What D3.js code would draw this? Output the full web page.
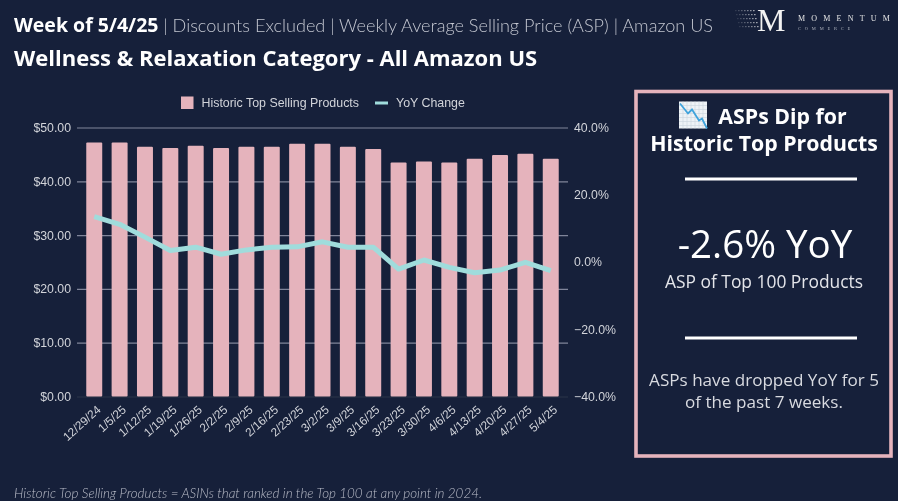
<!DOCTYPE html>
<html>
<head>
<meta charset="utf-8">
<script src="https://cdn.jsdelivr.net/npm/d3@7"></script>
<style>
    html, body { margin: 0; padding: 0; background: #16203a; overflow: hidden; }
    svg { display: block; filter: blur(0.35px); }
    .chartText { font-family: "Liberation Sans", Arial, sans-serif; fill: #d2d4da; }
</style>
</head>
<body>
<script>
// Chart data
var weeks = ["12/29/24", "1/5/25", "1/12/25", "1/19/25", "1/26/25", "2/2/25", "2/9/25", "2/16/25", "2/23/25", "3/2/25",
    "3/9/25", "3/16/25", "3/23/25", "3/30/25", "4/6/25", "4/13/25", "4/20/25", "4/27/25", "5/4/25"];
var aspValues = [47.2, 47.2, 46.4, 46.2, 46.6, 46.2, 46.4, 46.4, 47.0, 47.0,
    46.4, 46.0, 43.5, 43.7, 43.5, 44.2, 44.9, 45.1, 44.2];
var yoyValues = [13.5, 11.2, 7.4, 3.4, 4.4, 2.3, 3.6, 4.4, 4.5, 6.0,
    4.4, 4.4, -2.1, 0.6, -1.6, -3.2, -2.4, -0.1, -2.6];
var leftTicks = [0, 10, 20, 30, 40, 50];
var rightTicks = [-40, -20, 0, 20, 40];

var width = 898,
    height = 501;

var pink = "#e5b3bc",
    teal = "#a0dcdc",
    fontHead = "'Open Sans', sans-serif",
    fontLight = "'Lato', sans-serif";

var svg = d3.select("body")
    .append("svg")
    .attr("width", width)
    .attr("height", height);

// Scales
var x = d3.scaleBand()
    .domain(weeks)
    .range([77, 568])
    .paddingInner(0.37)
    .paddingOuter(0.365);

var yLeft = d3.scaleLinear()
    .domain([0, 50])
    .range([396.5, 127.5]);

var yRight = d3.scaleLinear()
    .domain([-40, 40])
    .range([396.5, 127.5]);

// Gridlines and left labels
var leftAxis = svg.append("g")
    .attr("transform", "translate(77,0)")
    .call(d3.axisLeft(yLeft)
        .tickValues(leftTicks)
        .tickSize(-491)
        .tickPadding(6)
        .tickFormat(function(d) { return "$" + d3.format(".2f")(d); }));
leftAxis.select(".domain").remove();
leftAxis.selectAll("line")
    .attr("stroke", function(d) { return d === 0 ? "#2b3449" : "#80859a"; })
    .attr("stroke-width", 1.2);
leftAxis.selectAll("text")
    .attr("class", "chartText")
    .style("font-size", "12.3px");

// Right labels
var rightAxis = svg.append("g")
    .attr("transform", "translate(568,0)")
    .call(d3.axisRight(yRight)
        .tickValues(rightTicks)
        .tickSize(0)
        .tickPadding(6)
        .tickFormat(function(d) { return d3.format(".1f")(d) + "%"; }));
rightAxis.select(".domain").remove();
rightAxis.selectAll("text")
    .attr("class", "chartText")
    .style("font-size", "12.3px");

// Bars
svg.selectAll(".bar")
    .data(aspValues)
    .enter()
    .append("rect")
    .attr("class", "bar")
    .attr("x", function(d, i) { return x(weeks[i]); })
    .attr("y", function(d) { return yLeft(d); })
    .attr("width", x.bandwidth())
    .attr("height", function(d) { return yLeft(0) - yLeft(d); })
    .attr("rx", 1)
    .attr("fill", pink);

// YoY line
var line = d3.line()
    .x(function(d, i) { return x(weeks[i]) + x.bandwidth() / 2; })
    .y(function(d) { return yRight(d); });

svg.append("path")
    .datum(yoyValues)
    .attr("d", line)
    .attr("fill", "none")
    .attr("stroke", teal)
    .attr("stroke-width", 5)
    .attr("stroke-linejoin", "round");

// Week labels
var bottomAxis = svg.append("g")
    .attr("transform", "translate(0,396.5)")
    .call(d3.axisBottom(x).tickSize(0));
bottomAxis.select(".domain").remove();
bottomAxis.selectAll("text")
    .attr("class", "chartText")
    .style("font-size", "11.8px")
    .attr("text-anchor", "end")
    .attr("dy", "0.35em")
    .attr("transform", "translate(2.5,9) rotate(-42)");

// Legend
svg.append("rect")
    .attr("x", 181).attr("y", 96.5)
    .attr("width", 12.5).attr("height", 12.5)
    .attr("fill", pink);
svg.append("text")
    .attr("class", "chartText")
    .attr("x", 201.5).attr("y", 106.5)
    .style("font-size", "12.4px")
    .text("Historic Top Selling Products");
svg.append("rect")
    .attr("x", 375).attr("y", 101.5)
    .attr("width", 13).attr("height", 3)
    .attr("fill", teal);
svg.append("text")
    .attr("class", "chartText")
    .attr("x", 396).attr("y", 106.5)
    .style("font-size", "12.4px")
    .text("YoY Change");

// Header
var head = svg.append("text")
    .attr("x", 14).attr("y", 32);
head.append("tspan")
    .attr("fill", "#ffffff")
    .style("font-family", fontHead)
    .style("font-size", "19.5px")
    .style("font-weight", 700)
    .text("Week of 5/4/25");
head.append("tspan")
    .attr("fill", "#c3c6d0")
    .style("font-family", fontLight)
    .style("font-size", "18.1px")
    .style("font-weight", 300)
    .text(" | Discounts Excluded | Weekly Average Selling Price (ASP) | Amazon US");

svg.append("text")
    .attr("x", 14).attr("y", 66)
    .attr("fill", "#ffffff")
    .style("font-family", fontHead)
    .style("font-size", "22px")
    .style("font-weight", 700)
    .text("Wellness & Relaxation Category - All Amazon US");

// Logo
svg.append("text")
    .attr("x", 757).attr("y", 31)
    .attr("fill", "#f2f2f2")
    .style("font-family", "'Liberation Serif', serif")
    .style("font-size", "32px")
    .text("M");
svg.append("text")
    .attr("x", 798).attr("y", 21)
    .attr("fill", "#e6e6e6")
    .style("font-family", "'Liberation Serif', serif")
    .style("font-size", "8px")
    .style("letter-spacing", "6.2px")
    .text("MOMENTUM");
svg.append("text")
    .attr("x", 798).attr("y", 30)
    .attr("fill", "#aeb2bd")
    .style("font-family", "'Liberation Serif', serif")
    .style("font-size", "4.5px")
    .style("letter-spacing", "3.8px")
    .text("COMMERCE");

// Dotted tail of the logo
d3.range(5).forEach(function(row) {
    d3.range(7).forEach(function(col) {
        svg.append("rect")
            .attr("x", 735 + col * 3 + row)
            .attr("y", 10 + row * 4)
            .attr("width", 1.6).attr("height", 1.2)
            .attr("fill", "#ffffff")
            .attr("opacity", 0.12 + col * 0.08);
    });
});

// Callout panel
svg.append("rect")
    .attr("x", 636).attr("y", 91.5)
    .attr("width", 255).attr("height", 364.5)
    .attr("fill", "none")
    .attr("stroke", pink)
    .attr("stroke-width", 3.6);

function panelText(label, xPos, yPos, size, weight, color) {
    return svg.append("text")
        .attr("x", xPos).attr("y", yPos)
        .attr("text-anchor", "middle")
        .attr("fill", color)
        .style("font-family", fontHead)
        .style("font-size", size + "px")
        .style("font-weight", weight)
        .text(label);
}

panelText("ASPs Dip for", 782.5, 124, 21.3, 700, "#ffffff");
panelText("Historic Top Products", 764, 151, 21.3, 700, "#ffffff");
panelText("-2.6% YoY", 765, 258, 38.5, 400, "#ffffff");
panelText("ASP of Top 100 Products", 764, 288, 17.4, 400, "#e4e5ea");
panelText("ASPs have dropped YoY for 5", 764, 386, 17.1, 400, "#d8dae0");
panelText("of the past 7 weeks.", 764, 408, 17.1, 400, "#d8dae0");

[179, 338].forEach(function(ruleY) {
    svg.append("line")
        .attr("x1", 685).attr("x2", 857)
        .attr("y1", ruleY).attr("y2", ruleY)
        .attr("stroke", "#ffffff")
        .attr("stroke-width", 3);
});

// Falling chart icon
var icon = svg.append("g").attr("transform", "translate(679,101.5)");
icon.append("rect")
    .attr("width", 28).attr("height", 27)
    .attr("fill", "#eef2f6");
d3.range(4, 28, 4).forEach(function(g) {
    icon.append("line").attr("x1", g).attr("x2", g).attr("y1", 0).attr("y2", 27)
        .attr("stroke", "#c9d3de").attr("stroke-width", 0.6);
    icon.append("line").attr("x1", 0).attr("x2", 28).attr("y1", g).attr("y2", g)
        .attr("stroke", "#c9d3de").attr("stroke-width", 0.6);
});
icon.append("path")
    .attr("d", "M1,2L9,12L13,8L20,19L23,17L28,27")
    .attr("fill", "none")
    .attr("stroke", "#3fa3dc")
    .attr("stroke-width", 1.8);

// Footnote
svg.append("text")
    .attr("x", 14).attr("y", 497.5)
    .attr("fill", "#b9bcc8")
    .style("font-family", fontLight)
    .style("font-size", "13.4px")
    .style("font-style", "italic")
    .style("font-weight", 300)
    .text("Historic Top Selling Products = ASINs that ranked in the Top 100 at any point in 2024.");
</script>
</body>
</html>
